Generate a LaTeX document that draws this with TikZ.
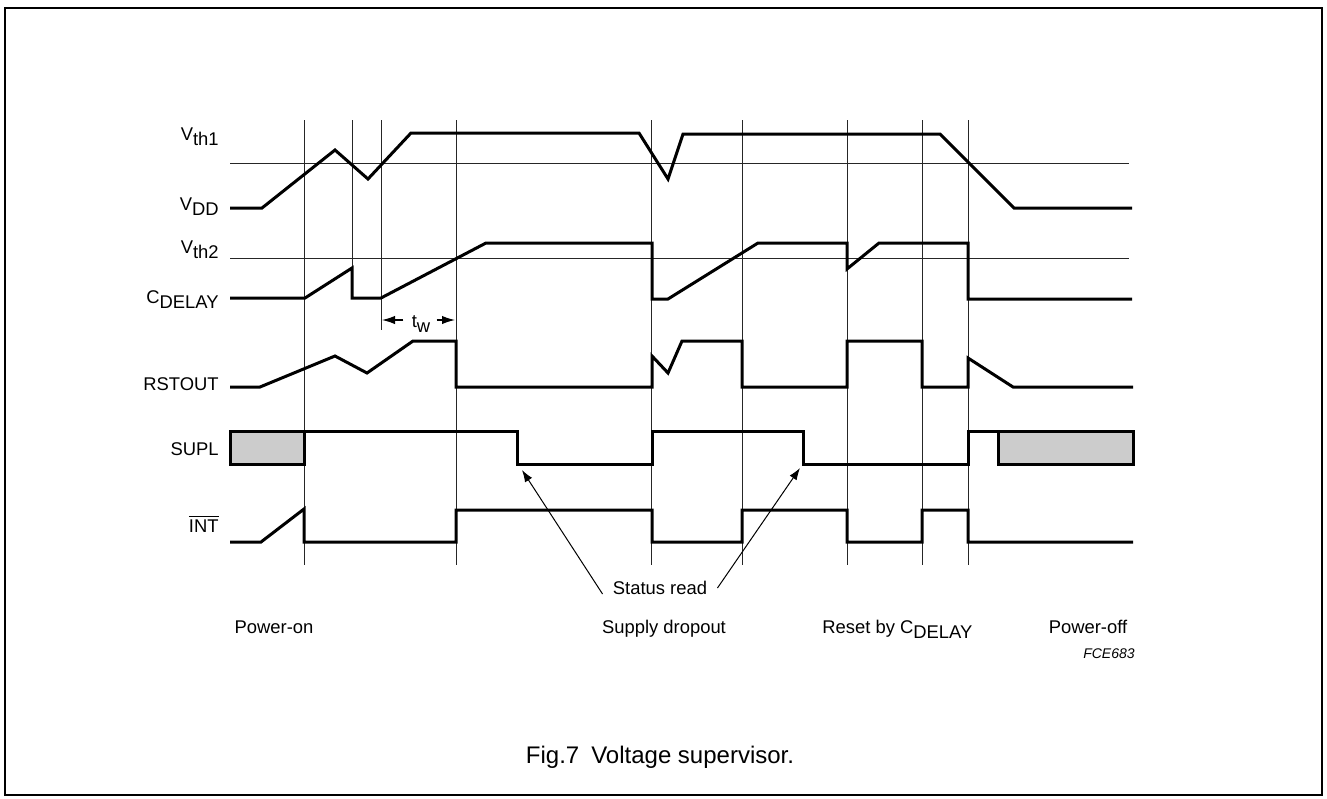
\documentclass[tikz,border=0pt]{standalone}
\usepackage{fontspec}
\setmainfont{Liberation Sans}
\usetikzlibrary{arrows.meta}
\definecolor{suplgray}{RGB}{204,204,204}
\newcommand\lsub[1]{\raisebox{-2.8pt}{#1}}

\begin{document}
\begin{tikzpicture}[x=0.5pt,y=-0.5pt,
    wave/.style={line width=1.5pt},
    guide/.style={line width=0.5pt, black!85},
    lbl/.style={inner sep=0pt, font=\fontsize{9.2}{11}\selectfont},
    pointer/.style={line width=0.5pt, -{Latex[length=6pt,width=4.2pt]}},
    twarrow/.style={line width=0.6pt, -{Latex[length=6.5pt,width=4.2pt]}}]
    \useasboundingbox (0,0) rectangle (1327,798);

    % Marco
    \draw[line width=0.8pt] (5,8) rectangle (1322,795);

    % Umbrales
    \draw[guide] (230,163) -- (1129,163);
    \draw[guide] (230,258) -- (1129,258);

    % Marcas de tiempo
    \foreach \x in {304,456,651,742,847,922,968} {
        \draw[guide] (\x,120) -- (\x,565);
    }
    \draw[guide] (352,120) -- (352,298);
    \draw[guide] (381,120) -- (381,330);

    % Nombres de las señales
    \node[lbl, anchor=base east] (vth1) at (219,140) {V\lsub{th1}};
    \node[lbl, anchor=base east] (vdd) at (219,210) {V\lsub{DD}};
    \node[lbl, anchor=base east] (vth2) at (219,253) {V\lsub{th2}};
    \node[lbl, anchor=base east] (cdel) at (219,303) {C\lsub{DELAY}};
    \node[lbl, anchor=base east] (rst) at (219,390) {RSTOUT};
    \node[lbl, anchor=base east] (supl) at (219,455) {SUPL};
    \node[lbl, anchor=base east] (int) at (219,532) {$\overline{\mbox{INT}}$};

    % VDD
    \draw[wave] (230,208) -- (262,208) -- (335,150) -- (368,179) -- (411,133)
        -- (639,133) -- (668,179) -- (683,134) -- (940,134) -- (1014,208) -- (1132,208);

    % CDELAY
    \draw[wave] (230,298) -- (305,298) -- (352,268) -- (352,298) -- (381,298)
        -- (486,243) -- (652,243) -- (652,299) -- (668,299) -- (758,243) -- (847,243)
        -- (847,269) -- (879,243) -- (968,243) -- (968,299) -- (1132,299);

    % RSTOUT
    \draw[wave] (230,387) -- (260,387) -- (335,356) -- (367,373) -- (413,341)
        -- (456,341) -- (456,387) -- (652,387) -- (652,356) -- (668,373) -- (682,341)
        -- (742,341) -- (742,387) -- (847,387) -- (847,341) -- (922,341) -- (922,387)
        -- (968,387) -- (968,358) -- (1013,387) -- (1133,387);

    % SUPL
    \filldraw[wave, fill=suplgray] (230,431) rectangle (304,464);
    \draw[wave] (304,431) -- (517,431) -- (517,464) -- (652,464) -- (652,431)
        -- (803,431) -- (803,464) -- (968,464) -- (968,431) -- (998,431);
    \filldraw[wave, fill=suplgray] (998,431) rectangle (1133,464);

    % INT
    \draw[wave] (230,542) -- (261,542) -- (304,509) -- (304,542) -- (456,542)
        -- (456,510) -- (652,510) -- (652,542) -- (742,542) -- (742,510) -- (847,510)
        -- (847,542) -- (922,542) -- (922,510) -- (968,510) -- (968,542) -- (1133,542);

    % tw
    \node[lbl, anchor=base] (tw) at (421,327) {t\lsub{w}};
    \coordinate (twl) at (382,320);
    \coordinate (twr) at (455,320);
    \coordinate (twa) at ([xshift=-4pt]tw.west);
    \coordinate (twb) at ([xshift=3pt]tw.east);
    \draw[twarrow] (twa |- twl) -- (twl);
    \draw[twarrow] (twb |- twr) -- (twr);

    % Lectura de estado
    \node[lbl, anchor=base] (sr) at (660,594) {Status read};
    \coordinate (rd1) at (522,470);
    \coordinate (rd2) at (800,468);
    \draw[pointer] ([xshift=-5pt]sr.base west) -- (rd1);
    \draw[pointer] ([xshift=5pt,yshift=3pt]sr.base east) -- (rd2);

    % Fases
    \node[lbl, anchor=base] (pon) at (274,633) {Power-on};
    \node[lbl, anchor=base] (drop) at (664,633) {Supply dropout};
    \node[lbl, anchor=base west] (rby) at (822,633) {Reset by C\lsub{DELAY}};
    \node[lbl, anchor=base] (poff) at (1088,633) {Power-off};
    \node[inner sep=0pt, anchor=base east, font=\fontsize{7}{8}\selectfont\itshape] (code) at (1135,658) {FCE683};

    % Leyenda
    \node[inner sep=0pt, anchor=base, font=\fontsize{12}{14}\selectfont] (cap) at (660,763) {Fig.7\enspace Voltage supervisor.};
\end{tikzpicture}
\end{document}
